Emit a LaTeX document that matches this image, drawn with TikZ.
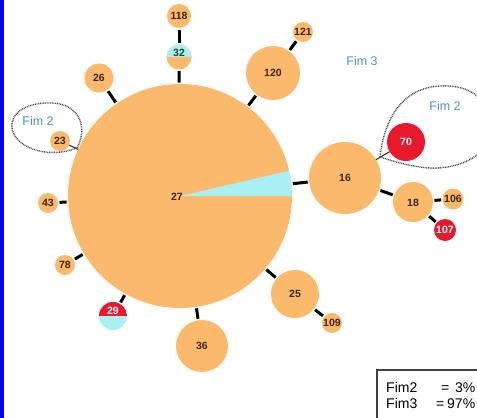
\documentclass[tikz,border=0pt]{standalone}
\usepackage{fontspec}
\setmainfont{Liberation Sans}
\definecolor{orng}{HTML}{FBB96C}
\definecolor{cyn}{HTML}{A8F0F2}
\definecolor{rd}{HTML}{E8192C}
\definecolor{lbl}{HTML}{3A2812}
\definecolor{fimblue}{HTML}{4A8FD6}
\definecolor{brd}{HTML}{0000F5}
\tikzset{
  hap/.style={circle, fill=orng, inner sep=0pt, outer sep=0pt},
  numtxt/.style={inner sep=0pt, text=lbl, font=\fontsize{10.5}{11}\selectfont\bfseries},
  conn/.style={line width=3pt, black, shorten <=1.5pt, shorten >=1.5pt},
  thinconn/.style={line width=1.1pt, black!80},
  fimloop/.style={line width=1.4pt, black!70, dash pattern=on 0.9pt off 0.8pt},
  fimlbl/.style={inner sep=0pt, text=fimblue, font=\fontsize{12.5}{14}\selectfont},
  legtxt/.style={inner sep=0pt, anchor=base west, font=\fontsize{14}{16}\selectfont}
}
\begin{document}
\begin{tikzpicture}[x=1pt,y=-1pt]
\useasboundingbox (0,0) rectangle (477,418);
\clip (0,0) rectangle (477,418);
\fill[white] (0,0) rectangle (477,418);
\fill[brd] (0,0) rectangle (4,418);

% main node
\node[hap, minimum size=224pt] (n27) at (180,196) {};
\fill[cyn] (n27.center) -- ++(112pt,0pt) arc[start angle=0, end angle=13, radius=112pt] -- cycle;
\node[numtxt] (t27) at (177,197) {27};

% other nodes
\node[hap, minimum size=25pt, path picture={\fill[cyn] (path picture bounding box.north west) rectangle (path picture bounding box.east);}] (n32) at (179,57) {};
\node[numtxt, text=lbl!70!teal] (t32) at (179,53) {32};
\node[hap, minimum size=24pt] (n118) at (179,16) {};
\node[numtxt] (t118) at (179,16) {118};
\node[hap, minimum size=29pt] (n26) at (99,78) {};
\node[numtxt] (t26) at (99,78) {26};
\node[hap, minimum size=20pt] (n23) at (60,141) {};
\node[numtxt] (t23) at (60,141) {23};
\node[hap, minimum size=20pt] (n43) at (48,203) {};
\node[numtxt] (t43) at (48,203) {43};
\node[hap, minimum size=20pt] (n78) at (65,265) {};
\node[numtxt] (t78) at (65,265) {78};
\node[hap, fill=cyn, minimum size=28pt, path picture={\fill[rd] (path picture bounding box.north west) rectangle (path picture bounding box.east);}] (n29) at (113,316) {};
\node[numtxt, text=white] (t29) at (113,311) {29};
\node[hap, minimum size=52pt] (n36) at (202,346) {};
\node[numtxt] (t36) at (202,346) {36};
\node[hap, minimum size=48pt] (n25) at (295,294) {};
\node[numtxt] (t25) at (295,294) {25};
\node[hap, minimum size=20pt] (n109) at (332,323) {};
\node[numtxt] (t109) at (332,323) {109};
\node[hap, minimum size=72pt] (n16) at (345,178) {};
\node[numtxt] (t16) at (345,178) {16};
\node[hap, fill=rd, minimum size=38pt] (n70) at (406,142) {};
\node[numtxt, text=white] (t70) at (406,142) {70};
\node[hap, minimum size=40pt] (n18) at (413,202) {};
\node[numtxt] (t18) at (413,203) {18};
\node[hap, minimum size=21pt] (n106) at (453,199) {};
\node[numtxt] (t106) at (453,199) {106};
\node[hap, fill=rd, minimum size=22pt] (n107) at (445,230) {};
\node[numtxt, text=white] (t107) at (445,230) {107};
\node[hap, minimum size=54pt] (n120) at (273,73) {};
\node[numtxt] (t120) at (273,73) {120};
\node[hap, minimum size=20pt] (n121) at (303,32) {};
\node[numtxt] (t121) at (303,32) {121};

% connectors
\draw[conn] (n118) -- (n32);
\draw[conn] (n32) -- (n27);
\draw[conn] (n26) -- (n27);
\draw[conn] (n43) -- (n27);
\draw[conn] (n78) -- (n27);
\draw[conn] (n29) -- (n27);
\draw[conn] (n36) -- (n27);
\draw[conn] (n25) -- (n27);
\draw[conn] (n109) -- (n25);
\draw[conn] (n16) -- (n27);
\draw[conn] (n18) -- (n16);
\draw[conn] (n106) -- (n18);
\draw[conn] (n107) -- (n18);
\draw[conn] (n120) -- (n27);
\draw[conn] (n121) -- (n120);
\draw[thinconn] (n23) -- (n27);
\draw[thinconn] (n70) -- (n16);

% loops
\draw[fimloop] (77,148) .. controls (88,128) and (80,104) .. (52,103)
  .. controls (28,102) and (10,112) .. (12,128)
  .. controls (14,146) and (45,160) .. (77,148);
\draw[fimloop] (380,157) .. controls (383,128) and (397,88) .. (440,86)
  .. controls (480,84) and (495,110) .. (490,135)
  .. controls (485,160) and (450,172) .. (420,167)
  .. controls (400,164) and (390,160) .. (380,157);

% labels
\node[fimlbl] (f2a) at (38,121) {Fim 2};
\node[fimlbl] (f2b) at (445,106) {Fim 2};
\node[fimlbl] (f3) at (362,61) {Fim 3};

% legend
\draw[line width=1.3pt, black!75] (377,500) -- (377,370) -- (520,370);
\node[legtxt] (lg1) at (386,392) {Fim2};
\node[legtxt] (lg1e) at (441,392) {=};
\node[legtxt] (lg1v) at (455,392) {3\%};
\node[legtxt] (lg2) at (386,408) {Fim3};
\node[legtxt] (lg2e) at (436,408) {=};
\node[legtxt] (lg2v) at (447,408) {97\%};
\end{tikzpicture}
\end{document}
